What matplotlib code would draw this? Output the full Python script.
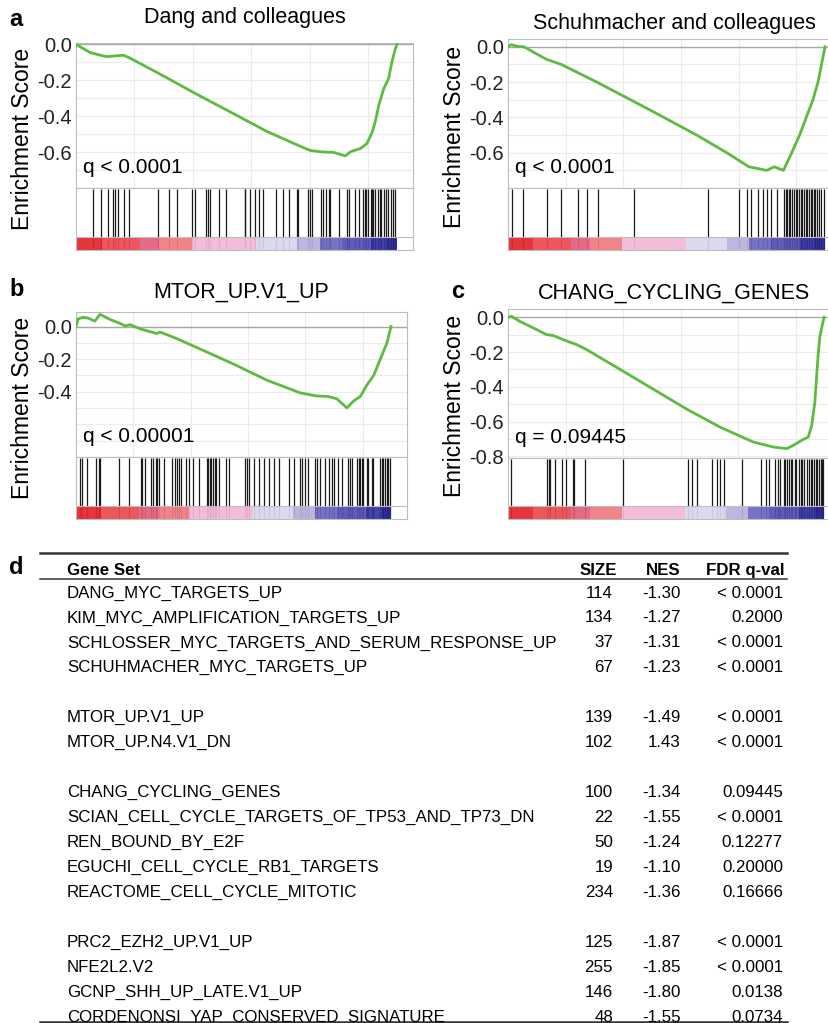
import matplotlib
matplotlib.use("Agg")
from matplotlib import pyplot as plt

plt.rcParams['font.family'] = ['Liberation Sans', 'DejaVu Sans']

W, H = 829, 1023

# Running enrichment score curves (rank fraction, ES)
dang_x = [0, 0.044, 0.075, 0.096, 0.116, 0.148, 0.168, 0.252, 0.387, 0.491, 0.595, 0.699,
          0.73, 0.761, 0.803, 0.839, 0.855, 0.886, 0.906, 0.922, 0.932, 0.943, 0.958, 0.974,
          0.984, 0.995, 1.0]
dang_es = [0, -0.045, -0.06, -0.068, -0.065, -0.06, -0.076, -0.156, -0.288, -0.386, -0.485,
           -0.568, -0.591, -0.598, -0.602, -0.621, -0.598, -0.58, -0.553, -0.492, -0.432,
           -0.341, -0.25, -0.189, -0.098, -0.023, 0]

schuh_x = [0, 0.01, 0.03, 0.05, 0.12, 0.168, 0.28, 0.45, 0.595, 0.69, 0.76, 0.816, 0.84,
           0.869, 0.895, 0.92, 0.941, 0.962, 0.978, 0.989, 1.0]
schuh_es = [0, 0.012, 0.002, 0.0, -0.07, -0.1, -0.2, -0.36, -0.5, -0.6, -0.68, -0.70, -0.68,
            -0.70, -0.6, -0.5, -0.4, -0.3, -0.2, -0.1, 0]

mtor_x = [0, 0.007, 0.023, 0.039, 0.06, 0.076, 0.108, 0.135, 0.156, 0.172, 0.203, 0.256,
          0.267, 0.32, 0.394, 0.5, 0.606, 0.712, 0.765, 0.797, 0.828, 0.86, 0.881, 0.903,
          0.924, 0.945, 0.966, 0.987, 1.0]
mtor_es = [0, 0.047, 0.057, 0.051, 0.033, 0.075, 0.043, 0.023, 0.004, 0.011, -0.014, -0.043,
           -0.034, -0.074, -0.138, -0.23, -0.329, -0.407, -0.426, -0.428, -0.443, -0.499,
           -0.457, -0.428, -0.357, -0.3, -0.2, -0.102, 0]

chang_x = [0, 0.011, 0.037, 0.09, 0.121, 0.143, 0.195, 0.216, 0.248, 0.354, 0.459, 0.565,
           0.671, 0.776, 0.84, 0.882, 0.903, 0.934, 0.95, 0.961, 0.971, 0.976, 0.982, 0.987, 1.0]
chang_es = [0, 0.006, -0.023, -0.07, -0.099, -0.105, -0.143, -0.156, -0.185, -0.299, -0.413,
            -0.528, -0.632, -0.718, -0.747, -0.756, -0.737, -0.703, -0.69, -0.623, -0.49,
            -0.356, -0.204, -0.109, 0]

# Hit positions (rank fraction)
dang_hits = [0.054, 0.077, 0.099, 0.115, 0.123, 0.130, 0.149, 0.166, 0.257, 0.291, 0.314,
             0.362, 0.370, 0.405, 0.412, 0.416, 0.444, 0.468, 0.525, 0.528, 0.543, 0.558,
             0.570, 0.582, 0.624, 0.644, 0.663, 0.688, 0.692, 0.723, 0.730, 0.734, 0.764,
             0.769, 0.780, 0.787, 0.792, 0.818, 0.844, 0.852, 0.868, 0.881, 0.894, 0.899,
             0.904, 0.910, 0.918, 0.922, 0.925, 0.933, 0.941, 0.946, 0.951, 0.958, 0.967,
             0.972, 0.982, 0.988, 0.995]
schuh_hits = [0.013, 0.047, 0.123, 0.166, 0.222, 0.248, 0.283, 0.398, 0.630, 0.730, 0.754,
              0.765, 0.789, 0.804, 0.818, 0.831, 0.849, 0.870, 0.876, 0.881, 0.886, 0.891,
              0.897, 0.902, 0.907, 0.912, 0.918, 0.923, 0.928, 0.934, 0.939, 0.944, 0.949,
              0.955, 0.960, 0.965, 0.970, 0.976, 0.981, 0.986, 0.997]
mtor_hits = [0.013, 0.019, 0.034, 0.065, 0.072, 0.076, 0.135, 0.169, 0.206, 0.211, 0.219,
             0.237, 0.243, 0.253, 0.258, 0.264, 0.280, 0.306, 0.314, 0.320, 0.327, 0.332,
             0.350, 0.359, 0.371, 0.390, 0.415, 0.420, 0.425, 0.430, 0.436, 0.441, 0.446,
             0.454, 0.475, 0.485, 0.538, 0.543, 0.549, 0.564, 0.580, 0.596, 0.612, 0.628,
             0.643, 0.675, 0.691, 0.712, 0.717, 0.728, 0.738, 0.759, 0.765, 0.775, 0.791,
             0.802, 0.812, 0.818, 0.833, 0.844, 0.865, 0.870, 0.876, 0.891, 0.897, 0.902,
             0.907, 0.912, 0.923, 0.928, 0.939, 0.944, 0.965, 0.970, 0.975, 0.981, 0.986,
             0.992, 0.997]
chang_hits = [0.008, 0.124, 0.129, 0.134, 0.150, 0.171, 0.182, 0.206, 0.208, 0.243, 0.363,
              0.571, 0.582, 0.598, 0.646, 0.661, 0.672, 0.683, 0.739, 0.802, 0.815, 0.825,
              0.844, 0.855, 0.862, 0.873, 0.878, 0.884, 0.889, 0.894, 0.899, 0.908, 0.912,
              0.921, 0.926, 0.931, 0.937, 0.947, 0.952, 0.958, 0.962, 0.968, 0.974, 0.979,
              0.984, 0.989, 0.993, 0.995, 0.998]

# Ranked-list colour bar blocks
cbar_edges = [0, 0.08, 0.2, 0.26, 0.36, 0.56, 0.69, 0.76, 0.83, 0.92, 0.97, 1.0]
cbar_colors = ['#e3262e', '#ea4a50', '#e0607c', '#ee7b80', '#f3b7d7', '#d8d6ee',
               '#b8b2de', '#6a68c0', '#5450b4', '#3434a2', '#2a2490']

# Table
gene_sets = ["DANG_MYC_TARGETS_UP", "KIM_MYC_AMPLIFICATION_TARGETS_UP",
             "SCHLOSSER_MYC_TARGETS_AND_SERUM_RESPONSE_UP", "SCHUHMACHER_MYC_TARGETS_UP", "",
             "MTOR_UP.V1_UP", "MTOR_UP.N4.V1_DN", "",
             "CHANG_CYCLING_GENES", "SCIAN_CELL_CYCLE_TARGETS_OF_TP53_AND_TP73_DN",
             "REN_BOUND_BY_E2F", "EGUCHI_CELL_CYCLE_RB1_TARGETS", "REACTOME_CELL_CYCLE_MITOTIC", "",
             "PRC2_EZH2_UP.V1_UP", "NFE2L2.V2", "GCNP_SHH_UP_LATE.V1_UP",
             "CORDENONSI_YAP_CONSERVED_SIGNATURE"]
sizes = ["114", "134", "37", "67", "", "139", "102", "", "100", "22", "50", "19", "234", "",
         "125", "255", "146", "48"]
nes = ["-1.30", "-1.27", "-1.31", "-1.23", "", "-1.49", "1.43", "", "-1.34", "-1.55", "-1.24",
       "-1.10", "-1.36", "", "-1.87", "-1.85", "-1.80", "-1.55"]
fdr = ["< 0.0001", "0.2000", "< 0.0001", "< 0.0001", "", "< 0.0001", "< 0.0001", "",
       "0.09445", "< 0.0001", "0.12277", "0.20000", "0.16666", "",
       "< 0.0001", "< 0.0001", "0.0138", "0.0734"]

fig = plt.figure(figsize=(W / 100, H / 100), dpi=100)


def rect(l, t, r, b):
    return [l / W, 1 - b / H, (r - l) / W, (b - t) / H]


def gsea_panel(left, x1, top, es_bottom, bottom, ylim, yticks, xs, es, hits, title, qtext,
               letter, letter_x, letter_y, title_y):
    right = left + 1.05 * (x1 - left)
    ax = fig.add_axes(rect(left, top, right, es_bottom))
    ax.plot(xs, es, color='#5dbb3f', lw=2.0, zorder=3)
    ax.axhline(0, color='#a8a8a8', lw=1, zorder=2)
    ax.set_xlim(0, 1.05)
    ax.set_ylim(*ylim)
    ax.set_yticks(yticks)
    ax.set_yticklabels(['%.1f' % v if v != 0 else '0.0' for v in yticks])
    ax.set_yticks([v / 10 for v in range(-8, 1)], minor=True)
    ax.set_xticks([0.182, 0.364, 0.546, 0.728, 0.91])
    ax.set_xticklabels([])
    ax.tick_params(axis='both', which='both', length=0, labelsize=14.5, pad=3, colors='#222222')
    ax.grid(True, which='both', color='#ececec', lw=0.8)
    for s in ax.spines.values():
        s.set_color('#bdbdbd')
    ax.text(0.02, 0.14, qtext, transform=ax.transAxes, fontsize=15, va='center', ha='left')

    ax2 = fig.add_axes(rect(left, es_bottom, right, bottom))
    ax2.vlines(hits, 0.02, 0.98, color='#1a1a1a', lw=0.9, zorder=1)
    widths = [cbar_edges[i + 1] - cbar_edges[i] for i in range(len(cbar_colors))]
    ax2.bar(cbar_edges[:-1], 0.21, width=widths, bottom=0, align='edge', color=cbar_colors,
            alpha=0.93, zorder=2)
    ax2.axhline(0.21, color='#bdbdbd', lw=0.8, zorder=3)
    ax2.set_xlim(0, 1.05)
    ax2.set_ylim(0, 1)
    ax2.set_xticks([])
    ax2.set_yticks([])
    for s in ax2.spines.values():
        s.set_color('#bdbdbd')

    fig.text((left + right) / 2 / W, 1 - title_y / H, title, ha='center', va='center',
             fontsize=15.5)
    fig.text(letter_x / W, 1 - letter_y / H, letter, ha='left', va='center', fontsize=17,
             fontweight='bold')
    fig.text((left - 53) / W, 1 - (top + bottom - 16) / 2 / H, 'Enrichment Score', rotation=90,
             ha='center', va='center', fontsize=16.5)


gsea_panel(76, 397, 43, 188, 250, (-0.652, 0.008), [0, -0.2, -0.4, -0.6], dang_x, dang_es,
           dang_hits, 'Dang and colleagues', 'q < 0.0001', 'a', 9, 20, 18)
gsea_panel(508, 825, 39, 188, 250, (-0.734, 0.044), [0, -0.2, -0.4, -0.6], schuh_x, schuh_es,
           schuh_hits, 'Schuhmacher and colleagues', 'q < 0.0001', '', 440, 20, 23)
gsea_panel(76, 391, 312, 457, 519, (-0.53, 0.089), [0, -0.2, -0.4], mtor_x, mtor_es,
           mtor_hits, 'MTOR_UP.V1_UP', 'q < 0.00001', 'b', 9, 290, 292)
gsea_panel(508, 824, 309, 458, 519, (-0.81, 0.048), [0, -0.2, -0.4, -0.6, -0.8], chang_x,
           chang_es, chang_hits, 'CHANG_CYCLING_GENES', 'q = 0.09445', 'c', 451, 291, 293)

# Table panel d
axt = fig.add_axes([0, 0, 1, 1])
axt.set_xlim(0, W)
axt.set_ylim(H, 0)
axt.axis('off')
axt.patch.set_alpha(0)

axt.text(9, 568, 'd', fontsize=17, fontweight='bold', ha='left', va='center')
axt.plot([40, 787], [553, 553], color='#333333', lw=1.8)
axt.plot([40, 787], [579, 579], color='#333333', lw=1.1)
axt.plot([40, 787], [1022, 1022], color='#333333', lw=1.8)

fs = 12.2
head_base = 575
axt.text(67, head_base, 'Gene Set', fontsize=fs, fontweight='bold', ha='left', va='baseline')
axt.text(617, head_base, 'SIZE', fontsize=fs, fontweight='bold', ha='right', va='baseline')
axt.text(681, head_base, 'NES', fontsize=fs, fontweight='bold', ha='right', va='baseline')
axt.text(785, head_base, 'FDR q-val', fontsize=fs, fontweight='bold', ha='right', va='baseline')

for i, name in enumerate(gene_sets):
    if not name:
        continue
    yb = 597.5 + i * 24.95
    axt.text(67, yb, name, fontsize=fs, ha='left', va='baseline')
    axt.text(613, yb, sizes[i], fontsize=fs, ha='right', va='baseline')
    axt.text(681, yb, nes[i], fontsize=fs, ha='right', va='baseline')
    axt.text(783, yb, fdr[i], fontsize=fs, ha='right', va='baseline')

fig.savefig('out.png', dpi=100, facecolor='white')
